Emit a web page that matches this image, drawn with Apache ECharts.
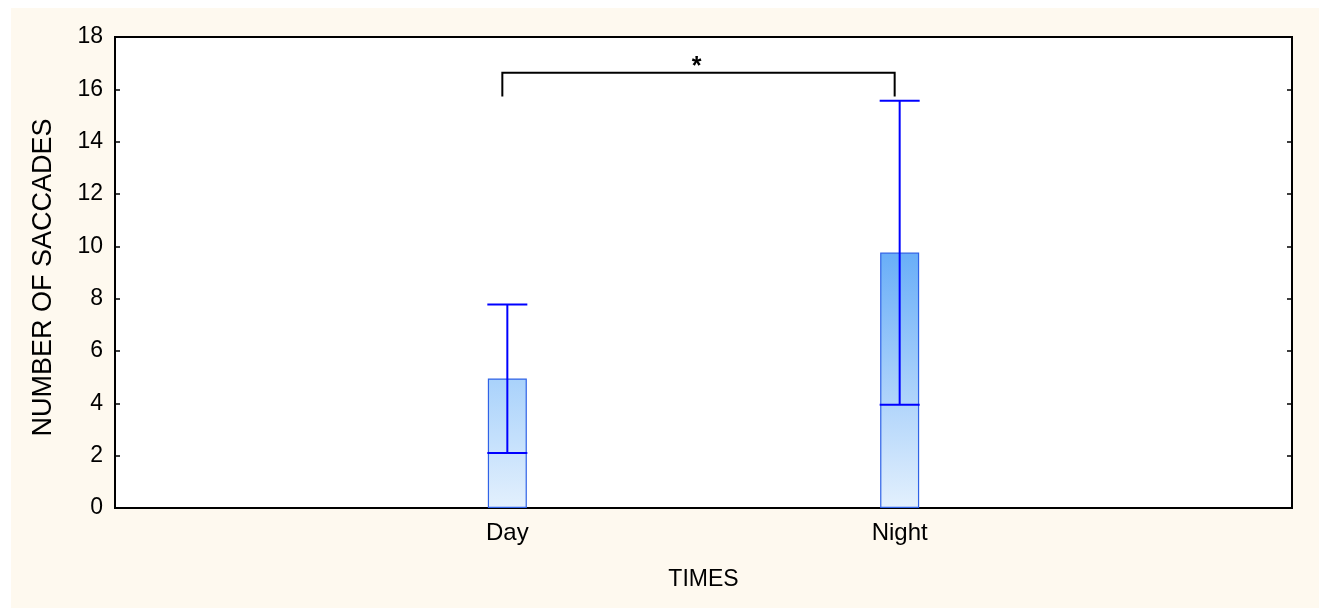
<!DOCTYPE html>
<html><head><meta charset="utf-8">
<style>html,body{margin:0;padding:0;background:#fff;}#c{width:1319px;height:608px;}</style>
<script src="https://cdn.jsdelivr.net/npm/echarts@6/dist/echarts.min.js"></script>
</head><body><div id="c"></div>
<script>
const categories = ['Day', 'Night'];
const means = [4.95, 9.76];
const errLow = [2.1, 3.95];
const errHigh = [7.78, 15.56];
const yTicks = [0, 2, 4, 6, 8, 10, 12, 14, 16, 18];
const bracketTop = 16.63;
const bracketLeg = 15.73;
const sigLabel = '*';

const axisCats = [''].concat(categories, ['']);
const topColors = ['#a9d2fb', '#69aef8'];
const barData = [null].concat(means.map((v, i) => ({
  value: v,
  itemStyle: {
    color: new echarts.graphic.LinearGradient(0, 0, 0, 1, [
      {offset: 0, color: topColors[i]}, {offset: 1, color: '#e3f0fd'}
    ])
  }
})), [null]);
const errData = categories.map((c, i) => [i + 1, errLow[i], errHigh[i]]);

const chart = echarts.init(document.getElementById('c'));
chart.setOption({
  backgroundColor: '#ffffff',
  animation: false,
  graphic: [{type: 'rect', z: -10, silent: true, shape: {x: 11, y: 8, width: 1308, height: 600}, style: {fill: '#fef9ef'}}],
  grid: {left: 115, top: 37, right: 27, bottom: 100, show: true, backgroundColor: '#ffffff', borderColor: '#000', borderWidth: 2, z: 0},
  xAxis: {
    type: 'category', data: axisCats, boundaryGap: false,
    name: 'TIMES', nameLocation: 'middle', nameGap: 60,
    nameTextStyle: {fontFamily: 'Arial, Liberation Sans', fontSize: 23, color: '#000'},
    axisLine: {lineStyle: {color: '#000', width: 2}},
    axisTick: {inside: true, length: 5, lineStyle: {color: '#000', width: 1.5}},
    axisLabel: {fontFamily: 'Arial, Liberation Sans', fontSize: 24, color: '#000', margin: 13, interval: 0},
    splitLine: {show: false}
  },
  yAxis: [{
    type: 'value', min: 0, max: 18, interval: 2,
    name: 'NUMBER OF SACCADES', nameLocation: 'middle', nameGap: 58, nameRotate: 90, nameTextStyle: {fontFamily: 'Arial, Liberation Sans', fontSize: 27, color: '#000', padding: [0, 10, 0, 0]},
    axisLine: {show: true, lineStyle: {color: '#000', width: 2}},
    axisTick: {show: true, inside: true, length: 5, lineStyle: {color: '#000', width: 1.5}},
    axisLabel: {fontFamily: 'Arial, Liberation Sans', fontSize: 23, color: '#000', margin: 12,
      formatter: v => yTicks.indexOf(v) >= 0 ? String(v) : ''},
    splitLine: {show: false}
  }, {
    type: 'value', min: 0, max: 18, interval: 2, position: 'right',
    axisLine: {show: true, lineStyle: {color: '#000', width: 2}},
    axisTick: {show: true, inside: true, length: 5, lineStyle: {color: '#000', width: 1.5}},
    axisLabel: {show: false}, splitLine: {show: false}
  }],
  series: [{
    type: 'bar', data: barData, barWidth: 39, z: 2,
    itemStyle: {borderColor: '#2f62e6', borderWidth: 1.2}
  }, {
    type: 'custom', z: 5, data: errData,
    renderItem: function (params, api) {
      const x = api.value(0);
      const lo = api.coord([x, api.value(1)]);
      const hi = api.coord([x, api.value(2)]);
      const hw = 20;
      const st = {stroke: '#0000ff', lineWidth: 2, fill: null};
      return {type: 'group', children: [
        {type: 'line', shape: {x1: lo[0], y1: lo[1], x2: hi[0], y2: hi[1]}, style: st},
        {type: 'line', shape: {x1: lo[0] - hw, y1: lo[1], x2: lo[0] + hw, y2: lo[1]}, style: st},
        {type: 'line', shape: {x1: hi[0] - hw, y1: hi[1], x2: hi[0] + hw, y2: hi[1]}, style: st}
      ]};
    }
  }, {
    type: 'custom', z: 6, data: [[1, 2, bracketTop, bracketLeg]],
    renderItem: function (params, api) {
      const a = api.coord([api.value(0), api.value(3)]);
      const b = api.coord([api.value(0), api.value(2)]);
      const c = api.coord([api.value(1), api.value(2)]);
      const d = api.coord([api.value(1), api.value(3)]);
      const off = -5;
      return {type: 'group', children: [
        {type: 'polyline', shape: {points: [[a[0] + off, a[1]], [b[0] + off, b[1]], [c[0] + off, c[1]], [d[0] + off, d[1]]]},
          style: {stroke: '#000', lineWidth: 2, fill: null}},
        {type: 'text', style: {text: sigLabel, x: (b[0] + c[0]) / 2 - 7, y: b[1] + 7, align: 'center', verticalAlign: 'bottom',
          font: 'bold 25px Arial, Liberation Sans', fill: '#000'}}
      ]};
    }
  }]
});
</script></body></html>
